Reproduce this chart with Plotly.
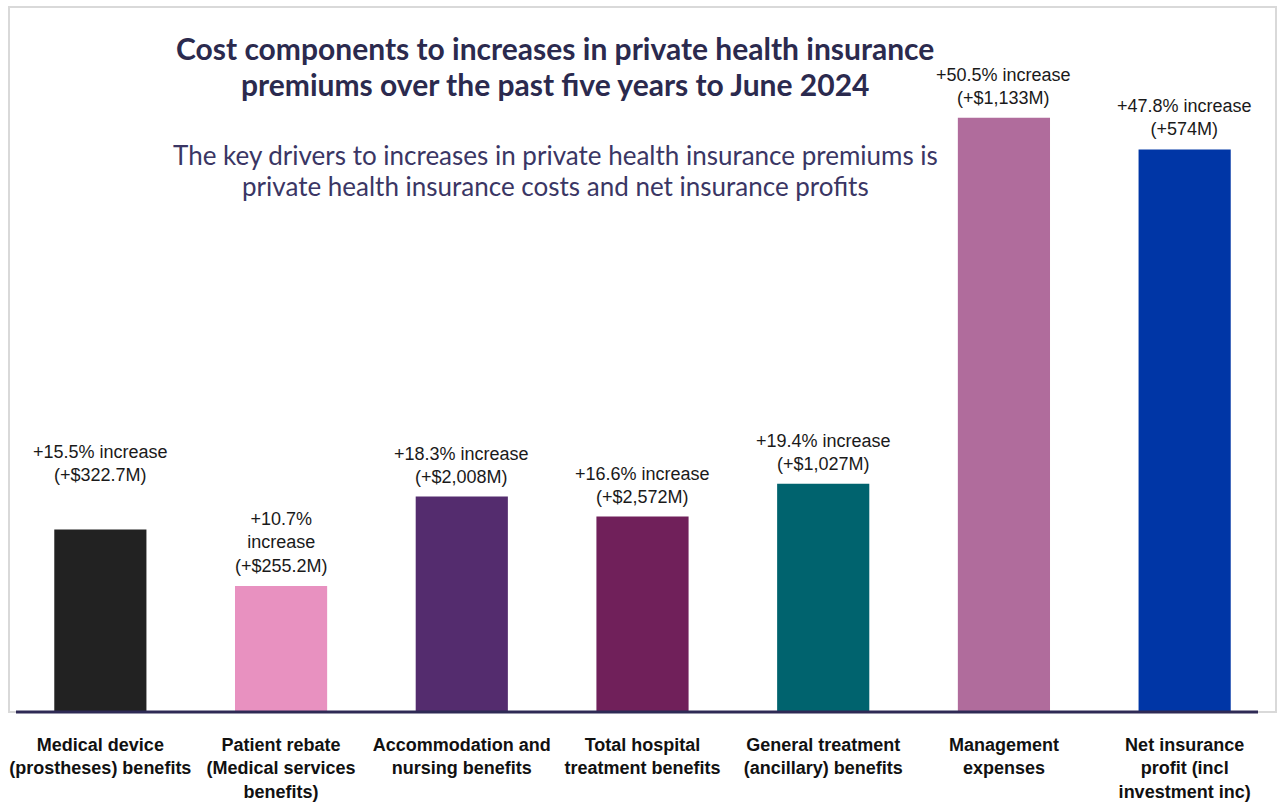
import plotly.graph_objects as go

categories = [
    "Medical device<br>(prostheses) benefits",
    "Patient rebate<br>(Medical services<br>benefits)",
    "Accommodation and<br>nursing benefits",
    "Total hospital<br>treatment benefits",
    "General treatment<br>(ancillary) benefits",
    "Management<br>expenses",
    "Net insurance<br>profit (incl<br>investment inc)",
]
pct_increase = [15.5, 10.7, 18.3, 16.6, 19.4, 50.5, 47.8]
dollar_increase = ["+$322.7M", "+$255.2M", "+$2,008M", "+$2,572M", "+$1,027M", "+$1,133M", "+574M"]
bar_colors = ["#222222", "#E891C0", "#542C6E", "#70205A", "#00636E", "#B06C9C", "#0036A6"]

title_lines = [
    "Cost components to increases in private health insurance",
    "premiums over the past five years to June 2024",
]
subtitle_lines = [
    "The key drivers to increases in private health insurance premiums is",
    "private health insurance costs and net insurance profits",
]

W, H = 1279, 806
ML, MR, MT, MB = 10, 4, 7, 92
PW, PH = W - ML - MR, H - MT - MB


def px_x(x):
    return (x - ML) / PW


def px_y(y):
    return (H - MB - y) / PH


labels = []
for i, (p, d) in enumerate(zip(pct_increase, dollar_increase)):
    if i == 1:
        labels.append(f"+{p}%<br>increase<br>({d})")
    else:
        labels.append(f"+{p}% increase<br>({d})")

xs = list(range(len(categories)))

fig = go.Figure(
    go.Bar(
        x=xs,
        y=pct_increase,
        marker=dict(color=bar_colors, line=dict(width=0)),
        width=0.51,
        hoverinfo="skip",
    )
)

annotations = []
for i, (xv, yv, t) in enumerate(zip(xs, pct_increase, labels)):
    annotations.append(dict(
        x=xv, y=yv, xref="x", yref="y", text=t, showarrow=False,
        yanchor="bottom", yshift=43 if i == 0 else 8,
        font=dict(family="Liberation Sans, Arial, sans-serif", size=18, color="#1a1a1a"),
        align="center",
    ))

title_font = dict(family="Lato, Calibri, sans-serif", size=30, color="#2B2A4E")
sub_font = dict(family="Lato, Calibri, sans-serif", size=26, color="#3A3664")
for line, yc in zip(title_lines, [48, 84]):
    annotations.append(dict(
        x=px_x(555), y=px_y(yc), xref="paper", yref="paper", text=f"<b>{line}</b>",
        showarrow=False, xanchor="center", yanchor="middle", font=title_font,
    ))
for line, yc in zip(subtitle_lines, [155, 187]):
    annotations.append(dict(
        x=px_x(555), y=px_y(yc), xref="paper", yref="paper", text=line,
        showarrow=False, xanchor="center", yanchor="middle", font=sub_font,
    ))

shapes = [
    dict(type="rect", xref="paper", yref="paper",
         x0=px_x(9), x1=px_x(1276), y0=px_y(714), y1=px_y(7),
         line=dict(color="#D9D9D9", width=2), layer="below"),
    dict(type="line", xref="paper", yref="paper",
         x0=px_x(16), x1=px_x(1258), y0=px_y(714), y1=px_y(714),
         line=dict(color="#2E2A55", width=3)),
]

fig.update_layout(
    width=W, height=H,
    margin=dict(l=ML, r=MR, t=MT, b=MB),
    paper_bgcolor="white", plot_bgcolor="white",
    showlegend=False,
    bargap=0.49,
    annotations=annotations,
    shapes=shapes,
    xaxis=dict(
        tickmode="array", tickvals=xs, ticktext=[f"<b>{c}</b>" for c in categories],
        range=[-0.5, len(categories) - 0.5], showgrid=False, zeroline=False,
        showline=False, ticks="", ticklabelstandoff=20,
        tickfont=dict(family="Liberation Sans, Arial, sans-serif", size=18, color="#111111"),
    ),
    yaxis=dict(range=[0, 59.9], visible=False, showgrid=False, zeroline=False),
)

fig.write_html("out.html")
